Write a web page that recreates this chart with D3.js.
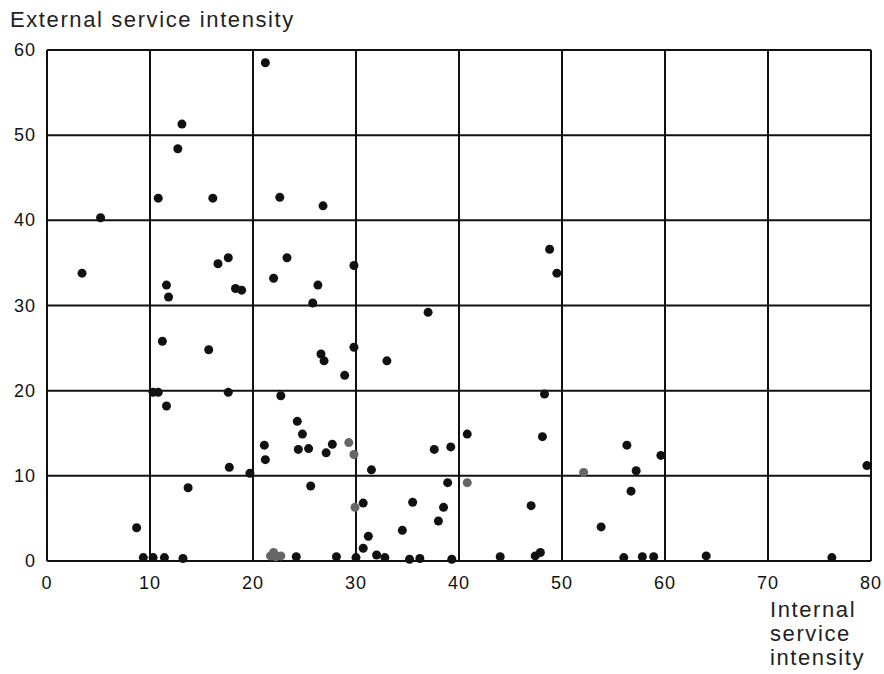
<!DOCTYPE html>
<html>
<head>
<meta charset="utf-8">
<script src="https://cdn.jsdelivr.net/npm/d3@7"></script>
<style>
	body { margin: 0; background: #fff; }
	svg { display: block; font-family: "Liberation Sans", Arial, sans-serif; }
	.grid line { stroke: #111; stroke-width: 2px; }
	.tick-label { font-size: 18px; fill: #111; letter-spacing: 1px; }
	.axis-title { font-size: 22px; fill: #222; letter-spacing: 1.6px; }
</style>
</head>
<body>
<svg width="884" height="674"></svg>
<script>
// internal service intensity (x), external service intensity (y)
var internalX = [3.4, 5.2, 21.2, 13.1, 12.7, 10.8, 16.1, 22.6, 26.8, 17.6, 16.6, 23.3, 22.0, 11.6, 11.8,
	18.3, 18.9, 26.3, 29.8, 25.8, 11.2, 15.7, 29.8, 26.6, 26.9, 33.0, 37.0, 28.9, 10.3, 10.8,
	17.6, 22.7, 11.6, 48.8, 49.5, 48.3, 24.3, 24.8, 21.1, 21.2, 24.4, 25.4, 27.1, 27.7, 31.5,
	19.7, 25.6, 37.6, 39.2, 40.8, 38.9, 30.7, 35.5, 38.5, 38.0, 34.5, 31.2, 30.7, 24.2, 28.1,
	30.0, 32.0, 32.8, 35.2, 36.2, 39.3, 17.7, 13.7, 8.7, 9.35, 10.3, 11.4, 13.2, 48.1, 56.3,
	59.6, 57.2, 79.6, 56.7, 47.0, 53.8, 44.0, 47.4, 47.9, 56.0, 57.8, 58.9, 64.0, 76.2];
var externalY = [33.8, 40.3, 58.5, 51.3, 48.4, 42.6, 42.6, 42.7, 41.7, 35.6, 34.9, 35.6, 33.2, 32.4, 31.0,
	32.0, 31.8, 32.4, 34.7, 30.3, 25.8, 24.8, 25.1, 24.3, 23.5, 23.5, 29.2, 21.8, 19.8, 19.8,
	19.8, 19.4, 18.2, 36.6, 33.8, 19.6, 16.4, 14.9, 13.6, 11.9, 13.1, 13.2, 12.7, 13.7, 10.7,
	10.3, 8.8, 13.1, 13.4, 14.9, 9.2, 6.8, 6.9, 6.3, 4.7, 3.6, 2.9, 1.5, 0.5, 0.5,
	0.4, 0.7, 0.4, 0.2, 0.3, 0.2, 11.0, 8.6, 3.9, 0.4, 0.4, 0.4, 0.3, 14.6, 13.6,
	12.4, 10.6, 11.2, 8.2, 6.5, 4.0, 0.5, 0.6, 1.0, 0.4, 0.5, 0.5, 0.6, 0.4];

// faint (grey) printed dots
var fadedX = [29.3, 29.8, 29.9, 40.8, 52.1, 21.7, 22.2, 22.7, 22.0];
var fadedY = [13.9, 12.5, 6.3, 9.2, 10.4, 0.6, 0.5, 0.6, 1.0];

var xTicks = [0, 10, 20, 30, 40, 50, 60, 70, 80];
var yTicks = [0, 10, 20, 30, 40, 50, 60];

var svg = d3.select('svg');

var x = d3.scaleLinear().domain([0, 80]).range([47, 871]);
var y = d3.scaleLinear().domain([0, 60]).range([561, 50]);

var grid = svg.append('g').attr('class', 'grid');

grid.selectAll('.vline')
	.data(xTicks)
	.enter().append('line')
	.attr('x1', function(d) { return x(d); })
	.attr('x2', function(d) { return x(d); })
	.attr('y1', y(0))
	.attr('y2', y(60));

grid.selectAll('.hline')
	.data(yTicks)
	.enter().append('line')
	.attr('y1', function(d) { return y(d); })
	.attr('y2', function(d) { return y(d); })
	.attr('x1', x(0))
	.attr('x2', x(80));

// tick labels
svg.selectAll('.xlab')
	.data(xTicks)
	.enter().append('text')
	.attr('class', 'tick-label')
	.attr('x', function(d) { return x(d); })
	.attr('y', 589)
	.attr('text-anchor', 'middle')
	.text(function(d) { return d; });

svg.selectAll('.ylab')
	.data(yTicks)
	.enter().append('text')
	.attr('class', 'tick-label')
	.attr('x', 36)
	.attr('y', function(d) { return y(d) + 6; })
	.attr('text-anchor', 'end')
	.text(function(d) { return d; });

// points
svg.append('g').selectAll('circle')
	.data(fadedX)
	.enter().append('circle')
	.attr('cx', function(d) { return x(d); })
	.attr('cy', function(d, i) { return y(fadedY[i]); })
	.attr('r', 4.5)
	.attr('fill', '#666');

svg.append('g').selectAll('circle')
	.data(internalX)
	.enter().append('circle')
	.attr('cx', function(d) { return x(d); })
	.attr('cy', function(d, i) { return y(externalY[i]); })
	.attr('r', 4.5)
	.attr('fill', '#111');

// axis titles
svg.append('text')
	.attr('class', 'axis-title')
	.attr('x', 10)
	.attr('y', 27)
	.text('External service intensity');

var xt = svg.append('text')
	.attr('class', 'axis-title')
	.attr('x', 770)
	.attr('y', 617);
['Internal', 'service', 'intensity'].forEach(function(w, i) {
	xt.append('tspan').attr('x', 770).attr('dy', i ? 24 : 0).text(w);
});
</script>
</body>
</html>
